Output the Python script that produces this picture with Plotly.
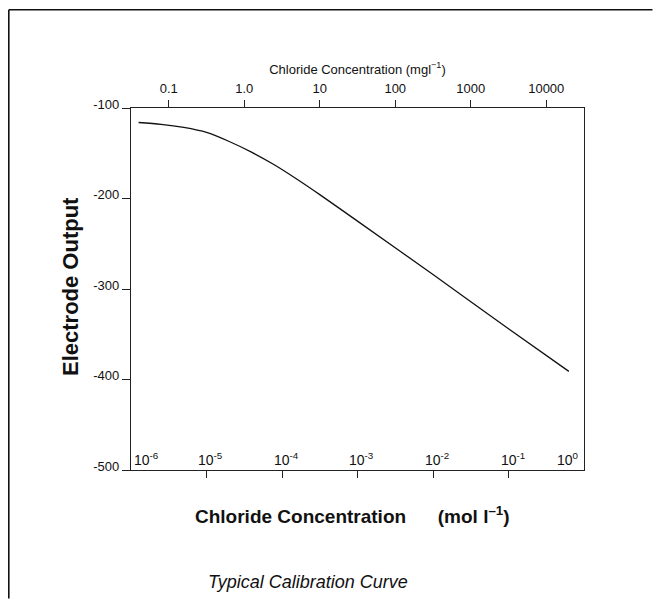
import math
import plotly.graph_objects as go

# ---- data ----
conc_mol = [1.26e-6, 2.5e-6, 5e-6, 1e-5, 2e-5, 4e-5, 8e-5, 1.6e-4, 3.2e-4, 1e-3, 1e-2, 1e-1, 0.63]
output_mv = [-116, -118, -121.5, -127, -137, -149, -163, -179, -196, -225, -284, -344, -391]

mol_decades = [1e-6, 1e-5, 1e-4, 1e-3, 1e-2, 1e-1, 1e0]
mol_labels = ["10<sup>-6</sup>", "10<sup>-5</sup>", "10<sup>-4</sup>", "10<sup>-3</sup>",
              "10<sup>-2</sup>", "10<sup>-1</sup>", "10<sup>0</sup>"]
mg_ticks = [0.1, 1, 10, 100, 1000, 10000]
mg_labels = ["0.1", "1.0", "10", "100", "1000", "10000"]
y_ticks = [-100, -200, -300, -400, -500]
y_labels = ["-100", "-200", "-300", "-400", "-500"]

FONT = "Liberation Sans, Arial, sans-serif"
OFF = 8  # page body margin
W, H = 661 - 2 * OFF, 607 - 2 * OFF
L, R, T, B = 131 - OFF, 584 - OFF, 108 - OFF, 470 - OFF
pw, ph = R - L, B - T


def px(xp):  # page x -> paper x
    return (xp - OFF - L) / pw


def py(yp):  # page y -> paper y
    return (B - (yp - OFF)) / ph


fig = go.Figure()
fig.add_trace(go.Scatter(
    x=conc_mol, y=output_mv, mode="lines",
    line=dict(color="#111111", width=1.3, shape="spline", smoothing=0.8),
    showlegend=False, hoverinfo="skip"))
# invisible trace to activate the top axis
fig.add_trace(go.Scatter(x=[mg_ticks[0]], y=[-300], xaxis="x2", mode="markers",
                         marker=dict(opacity=0), showlegend=False, hoverinfo="skip"))

axis_line = dict(showline=True, linecolor="#222222", linewidth=1.2, showgrid=False, zeroline=False)

fig.update_layout(
    width=W, height=H,
    margin=dict(l=L, r=W - R, t=T, b=H - B, pad=0),
    paper_bgcolor="white", plot_bgcolor="white",
    font=dict(family=FONT, size=13, color="#111111"),
    xaxis=dict(type="log", range=[-6, 0], tickvals=mol_decades[1:-1], ticks="outside",
               ticklen=7, tickcolor="#222222", showticklabels=False, **axis_line),
    xaxis2=dict(type="log", range=[-1.5, 4.5], overlaying="x", side="top", anchor="y",
                tickvals=mg_ticks, ticktext=mg_labels, ticks="outside", ticklen=7,
                tickcolor="#222222", tickfont=dict(size=13), ticklabelstandoff=2,
                title=dict(text="Chloride Concentration (mgl<sup>\u22121</sup>)",
                           font=dict(size=13), standoff=3),
                **axis_line),
    yaxis=dict(range=[-500, -100], tickvals=y_ticks, ticktext=y_labels, ticks="outside",
               ticklen=8, tickcolor="#222222", tickfont=dict(size=13), mirror=True,
               ticklabelshift=-4, **axis_line),
)

# bottom tick labels, drawn inside the plot above the axis
for i, (v, lab) in enumerate(zip(mol_decades, mol_labels)):
    if i == 0:
        xa, xs = "left", 1
    elif i == len(mol_decades) - 1:
        xa, xs = "right", -3
    else:
        xa, xs = "center", 4
    fig.add_annotation(x=math.log10(v), y=0, xref="x", yref="paper", text=lab,
                       showarrow=False, xanchor=xa, yanchor="bottom", xshift=xs, yshift=0,
                       font=dict(size=14, family=FONT))

# axis titles and caption
fig.add_annotation(x=px(352), y=py(515), xref="paper", yref="paper",
                   xanchor="center", yanchor="middle",
                   text="<b>Chloride Concentration\u00a0\u00a0\u00a0\u00a0\u00a0\u00a0(mol l<sup>\u20131</sup>)</b>",
                   showarrow=False, font=dict(size=19, family=FONT))
fig.add_annotation(x=px(70), y=py(287), xref="paper", yref="paper",
                   xanchor="center", yanchor="middle",
                   text="<b>Electrode Output</b>", textangle=-90,
                   showarrow=False, font=dict(size=22, family=FONT))
fig.add_annotation(x=px(308), y=py(582), xref="paper", yref="paper",
                   xanchor="center", yanchor="middle",
                   text="<i>Typical Calibration Curve</i>",
                   showarrow=False, font=dict(size=18, family=FONT))

# outer frame: only its top and left edges fall inside the picture
frame = dict(color="#111111", width=1.6)
fig.add_shape(type="line", xref="paper", yref="paper",
              x0=px(8.8), x1=px(652.5), y0=py(9.8), y1=py(9.8), line=frame, layer="below")
fig.add_shape(type="line", xref="paper", yref="paper",
              x0=px(8.8), x1=px(8.8), y0=py(9.8), y1=py(598.5), line=frame, layer="below")

fig.write_html("out.html")
